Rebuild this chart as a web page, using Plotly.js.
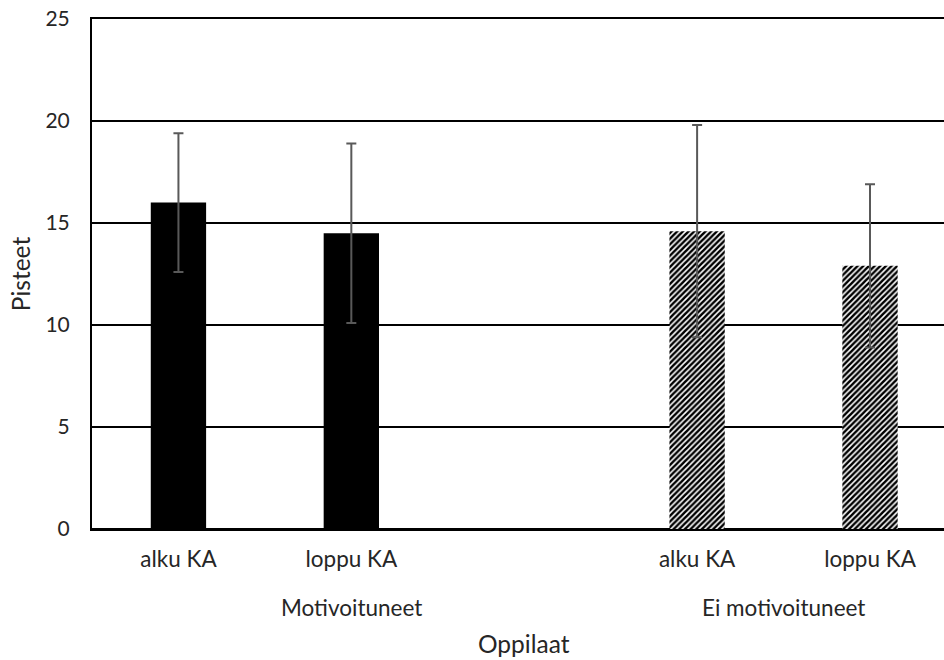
<!DOCTYPE html>
<html>
<head>
<meta charset="utf-8">
<script src="https://cdn.plot.ly/plotly-3.0.1.min.js"></script>
<style>
  html, body { margin: 0; padding: 0; background: #fff; overflow: hidden; }
  #chart { width: 944px; height: 660px; }
</style>
</head>
<body>
<div id="chart"></div>
<script>
// ---- data ----
const tickLabels = ['alku KA', 'loppu KA', '', 'alku KA', 'loppu KA'];
const groupOf    = ['Motivoituneet', 'Motivoituneet', 'Motivoituneet', 'Ei motivoituneet', 'Ei motivoituneet'];
const groupNames = ['Motivoituneet', 'Ei motivoituneet'];
const values     = [16.0, 14.5, null, 14.6, 12.9];
const errors     = [3.4, 4.4, null, 5.2, 4.0];
const yTicks     = [0, 5, 10, 15, 20, 25];
const xTitle     = 'Oppilaat';
const yTitle     = 'Pisteet';

// ---- build ----
const idx = tickLabels.map((_, i) => i);
function pick(arr, g) { return arr.map((v, i) => groupOf[i] === g ? v : null); }

const txtColor = '#262626';
const fontFam = 'Lato, "Open Sans", sans-serif';

const styles = {
  'Motivoituneet': { color: '#000000' },
  'Ei motivoituneet': { color: '#ffffff', pattern: { shape: '/', fgcolor: '#000000', bgcolor: '#ffffff', size: 4, solidity: 0.62 } }
};

const traces = groupNames.map(g => ({
  type: 'bar',
  x: idx,
  y: pick(values, g),
  width: 0.32,
  marker: Object.assign({ line: { width: 0 } }, styles[g]),
  error_y: { type: 'data', array: pick(errors, g), visible: true, color: '#595959', thickness: 2, width: 5 },
  name: g,
  hoverinfo: 'skip'
}));

const groupAnn = groupNames.map(g => {
  const members = idx.filter(i => groupOf[i] === g);
  const center = members.reduce((a, b) => a + b, 0) / members.length;
  return {
    text: g, x: center, xref: 'x', y: 0, yref: 'paper', yshift: -78,
    xanchor: 'center', yanchor: 'middle', showarrow: false,
    font: { family: fontFam, size: 22.5, color: txtColor }
  };
});

const layout = {
  width: 944, height: 660,
  margin: { l: 92, r: 0, t: 19, b: 131 },
  paper_bgcolor: '#ffffff', plot_bgcolor: '#ffffff',
  showlegend: false,
  barmode: 'overlay',
  font: { family: fontFam, size: 22, color: txtColor },
  xaxis: {
    range: [-0.5, 4.428],
    tickvals: idx, ticktext: tickLabels,
    ticks: '', showgrid: false, zeroline: false,
    showline: true, linecolor: '#000', linewidth: 2, mirror: true,
    ticklabelstandoff: 9,
    tickfont: { family: fontFam, size: 22.5, color: txtColor },
    fixedrange: true
  },
  yaxis: {
    range: [0, 25], tickvals: yTicks,
    ticks: '', showgrid: true, gridcolor: '#000', gridwidth: 2,
    zeroline: true, zerolinecolor: '#000', zerolinewidth: 2,
    showline: true, linecolor: '#000', linewidth: 2,
    ticklabelstandoff: 16,
    tickfont: { family: fontFam, size: 21, color: txtColor },
    title: { text: yTitle, standoff: 8, font: { family: fontFam, size: 24.5, color: txtColor } },
    automargin: false,
    fixedrange: true
  },
  annotations: groupAnn.concat([{
    text: xTitle, x: (idx[0] + idx[idx.length - 1]) / 2, xref: 'x', y: 0, yref: 'paper', yshift: -114,
    xanchor: 'center', yanchor: 'middle', showarrow: false,
    font: { family: fontFam, size: 24.5, color: txtColor }
  }])
};

Plotly.newPlot('chart', traces, layout, { displayModeBar: false, staticPlot: true });
</script>
</body>
</html>
